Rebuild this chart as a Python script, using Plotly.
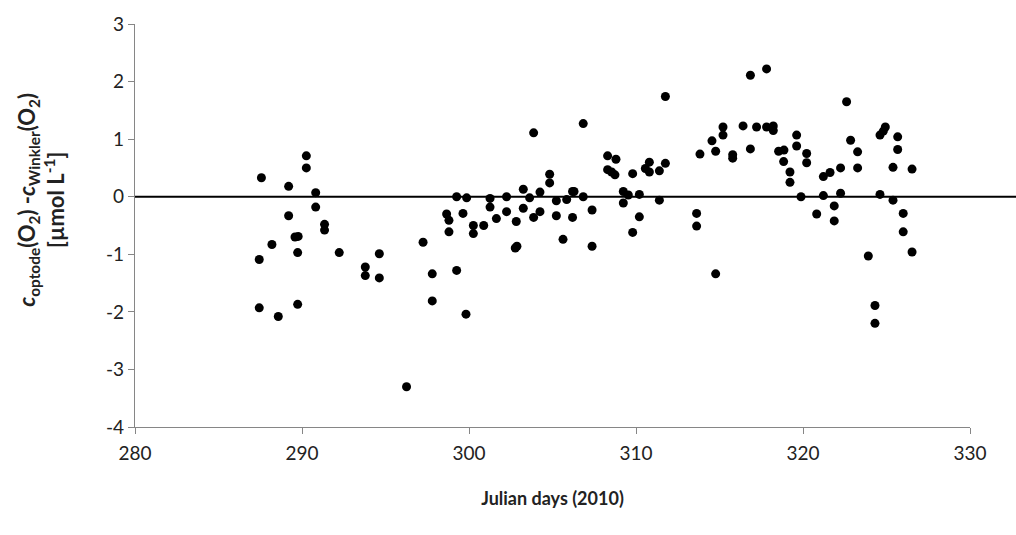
import plotly.graph_objects as go

days = [287.57, 287.44, 287.44, 288.2, 288.58, 289.2, 289.2, 289.58, 289.77, 289.74,
        289.74, 290.26, 290.26, 290.82, 290.82, 291.35, 291.35, 292.23, 293.79, 293.79,
        294.63, 294.63, 296.26, 297.25, 297.8, 297.8,
        298.66, 298.8, 298.8, 299.26, 299.26, 299.64, 299.86, 299.82, 300.26, 300.26,
        300.88, 301.26, 301.26, 301.64, 302.25, 302.25, 302.77, 302.87, 302.83, 303.25,
        303.25, 303.63, 303.87, 303.87, 304.25, 304.25, 304.83, 304.83, 305.23, 305.23,
        305.63, 305.85, 306.2, 306.29, 306.2, 306.84, 306.84, 307.37, 307.37, 308.3,
        308.8, 308.3, 308.54, 308.74, 309.24, 309.24,
        309.54, 309.8, 309.8, 310.2, 310.2, 310.56, 310.8, 310.8, 311.4, 311.4,
        311.76, 311.76, 313.63, 313.63, 313.83, 314.55, 314.77, 314.77, 315.21, 315.21,
        315.79, 315.79, 316.41, 316.85, 316.85, 317.22, 317.82, 317.82, 318.22, 318.22,
        318.54, 318.86, 318.84, 319.22, 319.22, 319.62, 319.62, 319.88, 320.22, 320.22,
        320.82,
        321.22, 321.62, 321.22, 321.87, 321.87, 322.25, 322.25, 322.61, 322.85, 323.27,
        323.27, 323.91, 324.31, 324.31, 324.61, 324.81, 324.93, 324.61, 325.39, 325.39,
        325.67, 325.67, 326.0, 326.0, 326.53, 326.53]

diff = [0.33, -1.09, -1.93, -0.83, -2.08, 0.18, -0.33, -0.70, -0.69, -0.97,
        -1.87, 0.71, 0.50, 0.07, -0.18, -0.48, -0.58, -0.97, -1.22, -1.37,
        -0.99, -1.41, -3.30, -0.79, -1.34, -1.81,
        -0.30, -0.41, -0.61, 0.0, -1.28, -0.29, -0.02, -2.04, -0.50, -0.64,
        -0.50, -0.03, -0.18, -0.38, 0.0, -0.26, -0.89, -0.86, -0.43, 0.13,
        -0.20, -0.02, 1.11, -0.36, 0.08, -0.26, 0.39, 0.24, -0.07, -0.33,
        -0.74, -0.05, 0.09, 0.09, -0.36, 1.27, 0.0, -0.23, -0.86, 0.71,
        0.65, 0.47, 0.43, 0.38, 0.09, -0.11,
        0.03, 0.40, -0.62, 0.04, -0.35, 0.49, 0.60, 0.43, 0.45, -0.06,
        1.74, 0.58, -0.29, -0.51, 0.74, 0.97, 0.79, -1.34, 1.21, 1.07,
        0.73, 0.67, 1.23, 2.11, 0.83, 1.21, 2.22, 1.21, 1.23, 1.15,
        0.79, 0.81, 0.61, 0.43, 0.25, 1.07, 0.88, 0.0, 0.75, 0.59,
        -0.30,
        0.35, 0.42, 0.02, -0.16, -0.42, 0.50, 0.06, 1.65, 0.98, 0.78,
        0.50, -1.03, -1.89, -2.20, 1.07, 1.14, 1.21, 0.04, 0.51, -0.06,
        1.04, 0.82, -0.29, -0.61, 0.48, -0.96]

x_ticks = [280, 290, 300, 310, 320, 330]
y_ticks = [3, 2, 1, 0, -1, -2, -3, -4]

FONT = "Lato, 'Open Sans', sans-serif"
AXIS_GREY = "#868686"
TEXT = "#222222"

fig = go.Figure()
fig.add_trace(go.Scatter(
    x=days, y=diff, mode="markers",
    marker=dict(color="black", size=9, line=dict(width=0)),
    showlegend=False,
))

fig.add_shape(type="line", xref="paper", yref="y", x0=0, x1=1.06, y0=0, y1=0,
              line=dict(color="black", width=2), layer="above")

fig.add_annotation(
    text="<b><i>c</i><sub>optode</sub>(O<sub>2</sub>) -<i>c</i><sub>Winkler</sub>(O<sub>2</sub>)<br>[µmol L<sup>-1</sup>]</b>",
    xref="paper", yref="paper", x=-0.112, y=0.565, xanchor="center", yanchor="middle",
    textangle=-90, showarrow=False, align="center",
    font=dict(size=22, family=FONT, color=TEXT),
)

fig.update_layout(
    width=1016, height=535,
    margin=dict(l=135, r=46, t=18, b=108),
    paper_bgcolor="white", plot_bgcolor="white",
    font=dict(family=FONT, size=19, color=TEXT),
)
fig.update_xaxes(
    range=[280, 330], tickvals=x_ticks, ticktext=[str(v) for v in x_ticks],
    showgrid=False, zeroline=False,
    showline=True, linecolor=AXIS_GREY, linewidth=1.3,
    ticks="outside", ticklen=6, tickcolor=AXIS_GREY, tickwidth=1.3,
    ticklabelstandoff=3,
    tickfont=dict(size=19, family=FONT, color=TEXT),
    title=dict(text="<b>Julian days (2010)</b>", font=dict(size=18, family=FONT, color=TEXT),
               standoff=29),
)
fig.update_yaxes(
    range=[-4, 3], tickvals=y_ticks, ticktext=[str(v) for v in y_ticks],
    showgrid=False, zeroline=False,
    showline=True, linecolor=AXIS_GREY, linewidth=1.3,
    ticks="outside", ticklen=6, tickcolor=AXIS_GREY, tickwidth=1.3,
    tickfont=dict(size=19, family=FONT, color=TEXT),
)

fig.write_html("out.html")
